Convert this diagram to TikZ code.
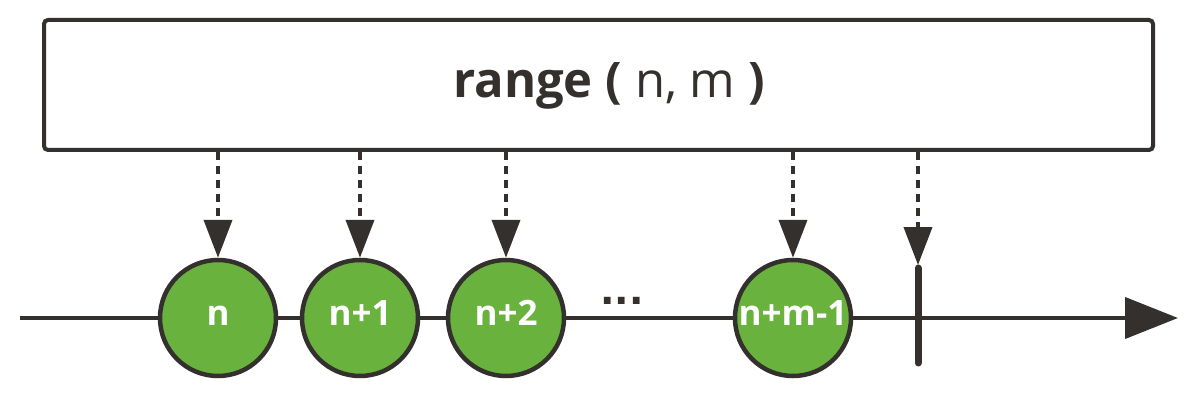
\documentclass[tikz,border=0pt]{standalone}
\usepackage{fontspec}
\setmainfont{Open Sans}
\newfontfamily\dotfont{DejaVu Sans}
\usetikzlibrary{arrows.meta}
\definecolor{ink}{HTML}{33302D}
\definecolor{leaf}{HTML}{6AB23E}
\tikzset{
  titlebox/.style={draw=ink, line width=4pt, rounded corners=4pt, fill=white},
  marble/.style={circle, draw=ink, line width=4.5pt, fill=leaf, minimum size=116pt, inner sep=0pt,
     text=white, font=\fontsize{35}{40}\selectfont\bfseries, text height=14pt, text depth=0pt},
  emitarrow/.style={draw=ink, line width=4pt, dash pattern=on 8pt off 6pt,
     -{Triangle[length=38pt,width=28pt]}},
  timeline/.style={draw=ink, line width=4pt, -{Triangle[length=53pt,width=41pt]}},
}
\begin{document}
\begin{tikzpicture}[x=1pt,y=-1pt]
\useasboundingbox (0,0) rectangle (1200,417);
\fill[white] (0,0) rectangle (1200,417);
% operator box
\draw[titlebox] (44,20) rectangle (1153,150);
\coordinate (boxbottom) at (600,152);
\node[anchor=base, text=ink, font=\fontsize{49}{58}\selectfont] (title) at (609,98)
  {\textbf{range (} n, m \textbf{)}};
% timeline
\coordinate (start) at (20,318);
\coordinate (finish) at (1178,318);
\draw[timeline] (start) -- (finish);
% marbles
\node[marble] (c1) at (218,318) {n};
\node[marble] (c2) at (360,318) {n+1};
\node[marble] (c3) at (506,318) {n+2};
\node[marble] (c4) at (793,318) {n+m-1};
\node[anchor=base, text=ink, font=\dotfont\fontsize{38}{44}\selectfont\bfseries] (dots) at (622,304) {...};
% completion
\coordinate (tt) at (918,268);
\coordinate (tb) at (918,363);
\draw[ink, line width=7pt, line cap=round] (tt) -- (tb);
\coordinate (ttip) at (918,265);
% emission arrows
\draw[emitarrow] (boxbottom -| c1) -- (c1.north);
\draw[emitarrow] (boxbottom -| c2) -- (c2.north);
\draw[emitarrow] (boxbottom -| c3) -- (c3.north);
\draw[emitarrow] (boxbottom -| c4) -- (c4.north);
\draw[emitarrow] (boxbottom -| ttip) -- (ttip);
\end{tikzpicture}
\end{document}
